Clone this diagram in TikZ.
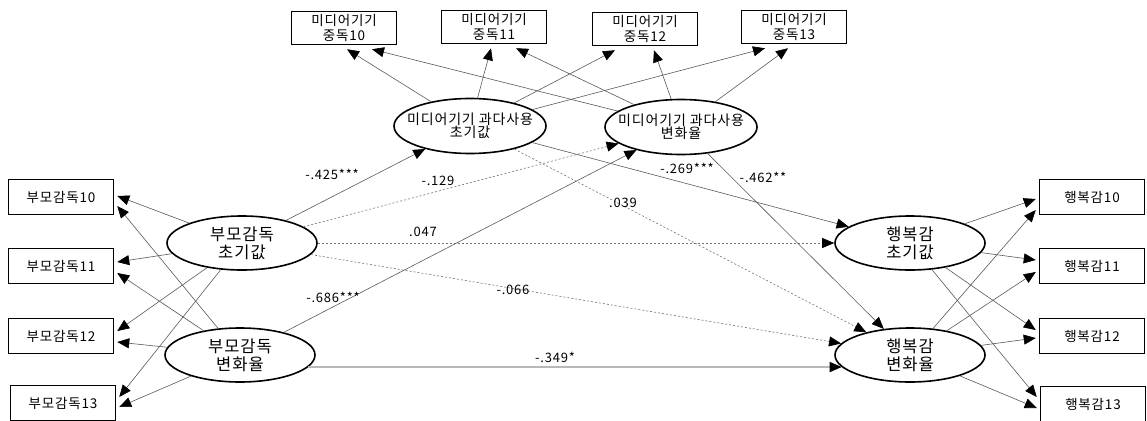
\documentclass[tikz,border=0pt]{standalone}
\usepackage{fontspec}
\setmainfont[LetterSpace=6]{Noto Sans CJK KR}
\usetikzlibrary{arrows.meta,calc,shapes.geometric}
\begin{document}
\begin{tikzpicture}[x=1pt,y=-1pt,
 box/.style={draw,line width=1.5pt,minimum width=105pt,minimum height=35pt,inner sep=0pt,align=center,font=\fontsize{13.5}{14.5}\selectfont},
 tbox/.style={box,minimum height=33pt},
 lat/.style={ellipse,draw,line width=1.6pt,minimum width=150pt,minimum height=54pt,inner xsep=-10pt,inner ysep=0pt,align=center,font=\fontsize{16.5}{18}\selectfont},
 mlat/.style={lat,minimum width=152pt,minimum height=55pt,inner xsep=-25pt,font=\fontsize{14}{13.5}\selectfont},
 arr/.style={draw=black!65,line width=0.6pt,-{Triangle[length=12pt,width=10pt,black]}},
 darr/.style={arr,draw=black!55,dash pattern=on 2pt off 2pt},
 harr/.style={arr,draw=black!28,line width=1.5pt},
 coef/.style={font=\fontsize{13}{13}\selectfont,inner sep=0pt}
]
\useasboundingbox (0,0) rectangle (1147,420);

% observed indicators
\node[box] (L10) at (61,197) {부모감독10};
\node[box] (L11) at (61,266) {부모감독11};
\node[box] (L12) at (61,336) {부모감독12};
\node[box] (L13) at (63,403) {부모감독13};
\node[box] (R10) at (1092,197) {행복감10};
\node[box] (R11) at (1092,266) {행복감11};
\node[box] (R12) at (1092,336) {행복감12};
\node[box] (R13) at (1093,404) {행복감13};
\node[tbox] (T10) at (344,28) {미디어기기\\중독10};
\node[tbox] (T11) at (494,27) {미디어기기\\중독11};
\node[tbox] (T12) at (645,29) {미디어기기\\중독12};
\node[tbox] (T13) at (794,27) {미디어기기\\중독13};

% latent factors
\node[lat] (PI) at (242,243) {부모감독\\초기값};
\node[lat] (PV) at (240,355) {부모감독\\변화율};
\node[lat] (HI) at (910,243) {행복감\\초기값};
\node[lat] (HV) at (910,355) {행복감\\변화율};
\node[mlat] (MI) at (470,126) {미디어기기 과다사용\\초기값};
\node[mlat] (MV) at (681,127) {미디어기기 과다사용\\변화율};

% loadings: parental supervision
\draw[arr] (PI) -- ($(L10.east)+(3,-1)$);
\draw[arr] (PV) -- ($(L10.east)+(3,9)$);
\draw[arr] (PI) -- ($(L11.east)+(3,-4)$);
\draw[arr] (PV) -- ($(L11.east)+(3,7)$);
\draw[arr] (PI) -- ($(L12.east)+(3,-5)$);
\draw[arr] (PV) -- ($(L12.east)+(3,6)$);
\draw[arr] (PI) -- ($(L13.east)+(3,-6)$);
\draw[arr] (PV) -- ($(L13.east)+(3,4)$);

% loadings: happiness
\draw[arr] (HI) -- ($(R10.west)+(-3,2)$);
\draw[arr] (HV) -- ($(R10.west)+(-3,13)$);
\draw[arr] (HI) -- ($(R11.west)+(-3,-6)$);
\draw[arr] (HV) -- ($(R11.west)+(-3,6)$);
\draw[arr] (HI) -- ($(R12.west)+(-3,-6)$);
\draw[arr] (HV) -- ($(R12.west)+(-3,2)$);
\draw[arr] (HI) -- ($(R13.west)+(-3,-7)$);
\draw[arr] (HV) -- ($(R13.west)+(-3,4)$);

% loadings: media
\draw[arr] (MI) -- ($(T10.south)+(3,4)$);
\draw[arr] (MV) -- ($(T10.south)+(28,4)$);
\draw[arr] (MI) -- ($(T11.south)+(-3,4)$);
\draw[arr] (MV) -- ($(T11.south)+(22,4)$);
\draw[arr] (MI) -- ($(T12.south)+(-30,4)$);
\draw[arr] (MV) -- ($(T12.south)+(9,4)$);
\draw[arr] (MI) -- ($(T13.south)+(-29,4)$);
\draw[arr] (MV) -- ($(T13.south)+(-6,4)$);

% structural paths
\draw[arr] (PI) -- (MI);
\draw[darr] (PI) -- (MV);
\draw[darr] (PI) -- (HI);
\draw[darr] (PI) -- (HV);
\draw[arr] (PV) -- (MV);
\draw[harr] (PV.-10) -- (HV.190);
\draw[arr] (MI) -- (HI);
\draw[darr] (MI) -- (HV);
\draw[arr] (MV) -- (HV);

% coefficients
\node[coef] (k1) at (332,174) {-.425***};
\node[coef] (k2) at (438,181) {-.129};
\node[coef] (k3) at (423,232) {.047};
\node[coef] (k4) at (333,297) {-.686***};
\node[coef] (k5) at (513,290) {-.066};
\node[coef] (k6) at (555,357) {-.349*};
\node[coef] (k7) at (687,168) {-.269***};
\node[coef] (k8) at (763,177) {-.462**};
\node[coef] (k9) at (623,203) {.039};
\end{tikzpicture}
\end{document}
